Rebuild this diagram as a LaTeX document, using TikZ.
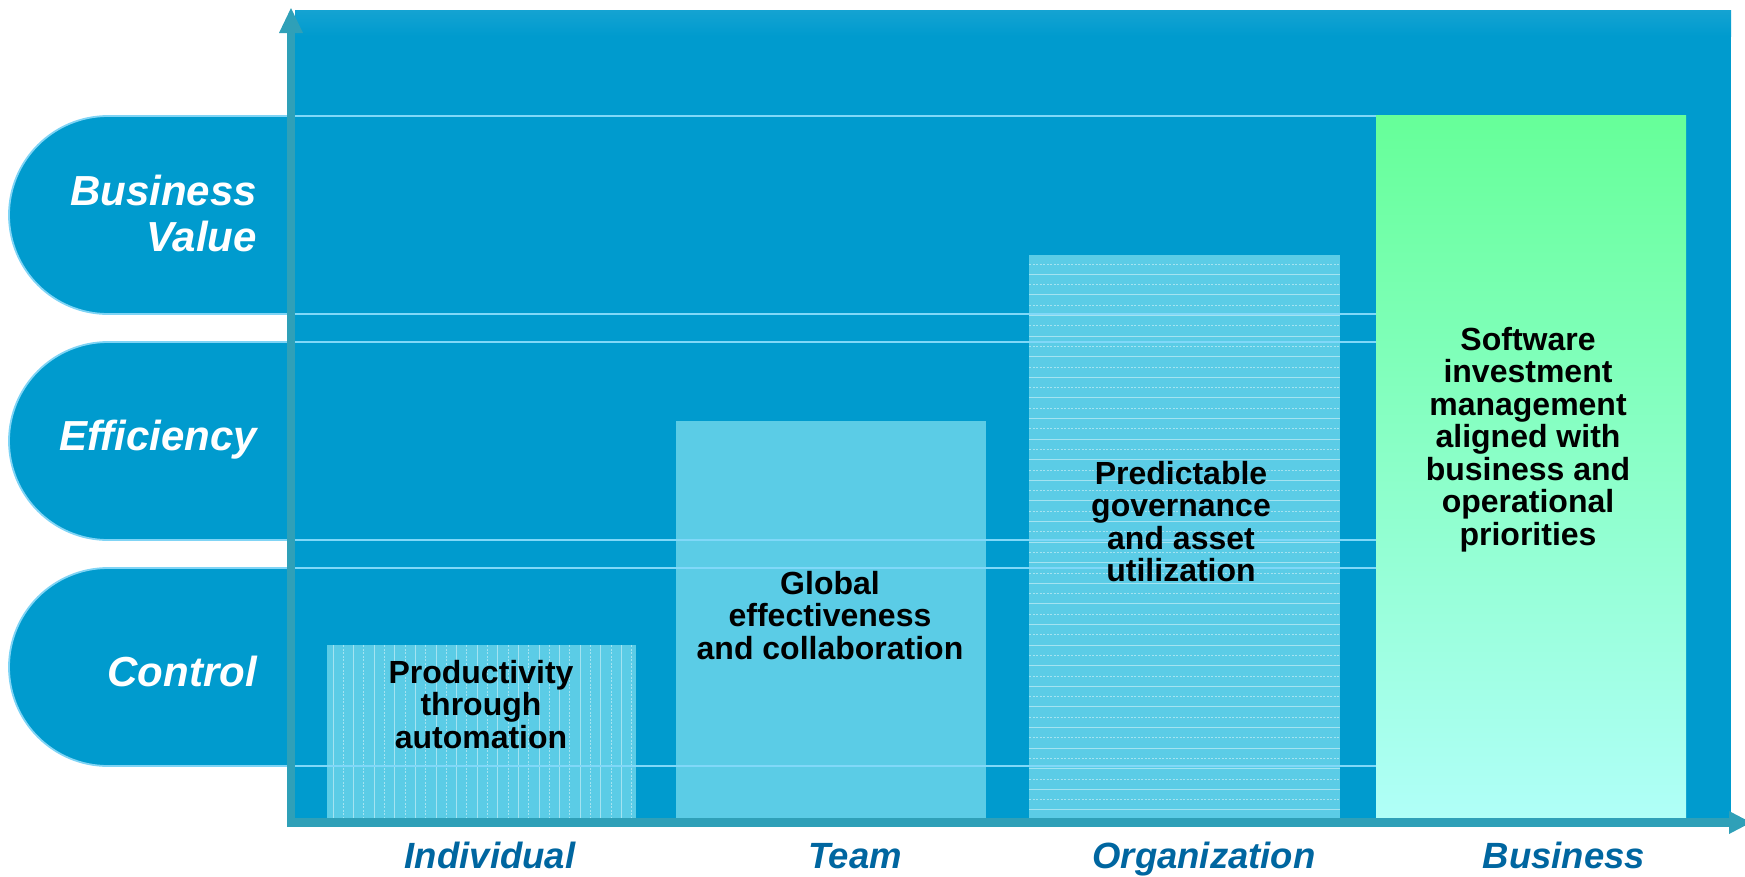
\documentclass[tikz,border=0pt]{standalone}
\usepackage{fontspec}
\setmainfont{Liberation Sans}
\definecolor{mainblue}{RGB}{0,155,206}
\definecolor{tabline}{RGB}{128,212,245}
\definecolor{hline}{RGB}{128,216,248}
\definecolor{barcyan}{RGB}{91,204,230}
\definecolor{axisteal}{RGB}{47,160,184}
\definecolor{labelblue}{RGB}{0,102,160}
\definecolor{greentop}{RGB}{102,255,153}
\definecolor{greenbot}{RGB}{176,255,248}
\begin{document}
\begin{tikzpicture}[x=1pt,y=-1pt,
  tabshape/.style={fill=mainblue, draw=tabline, line width=1.8pt, rounded corners=99pt},
  barfill/.style={fill=barcyan},
  hatch/.style={draw=white, opacity=0.45, line width=0.9pt},
  hatchdash/.style={hatch, dash pattern=on 2pt off 1.5pt},
  level/.style={draw=hline, line width=2.2pt},
  axisline/.style={draw=axisteal, line width=8.5pt},
  axishead/.style={fill=axisteal},
  tablabel/.style={text=white, font=\fontsize{42}{46.5}\selectfont\bfseries\itshape, align=right, inner sep=0pt, anchor=base east},
  barlabel/.style={text=black, font=\fontsize{32}{32.5}\selectfont\bfseries, align=center, inner sep=0pt, anchor=base},
  axislabel/.style={text=labelblue, font=\fontsize{36.5}{40}\selectfont\bfseries\itshape, inner sep=0pt, anchor=base}
]
\useasboundingbox (0,0) rectangle (1745,876);
\clip (0,0) rectangle (1745,876);
% main panel
\fill[mainblue] (295,10) rectangle (1731,818);
\shade[top color=mainblue!92!white, bottom color=mainblue] (295,10) rectangle (1731,36);
% tabs
\path[tabshape] (300,116) -- (9,116) -- (9,314) -- (300,314);
\path[tabshape] (300,342) -- (9,342) -- (9,540) -- (300,540);
\path[tabshape] (300,568) -- (9,568) -- (9,766) -- (300,766);
% bars
\fill[barfill] (327,645) rectangle (636,818);
\fill[barfill] (676,421) rectangle (986,818);
\fill[barfill] (1029,255) rectangle (1340,818);
\foreach \i in {0,...,14} {
  \draw[hatch] ({333+\i*20.6},645) -- ({333+\i*20.6},818);
  \draw[hatchdash] ({343.3+\i*20.6},645) -- ({343.3+\i*20.6},818);
}
\foreach \i in {0,...,26} {
  \draw[hatchdash] (1029,{264+\i*20.6}) -- (1340,{264+\i*20.6});
  \draw[hatch] (1029,{274.3+\i*20.6}) -- (1340,{274.3+\i*20.6});
}
% level lines
\foreach \yy in {116,314,342,540,568,766} {
  \draw[level] (295,\yy) -- (1376,\yy);
}
% green bar
\shade[top color=greentop, bottom color=greenbot] (1376,115) rectangle (1686,818);
% axes
\coordinate (origin) at (291,822.5);
\coordinate (ybase) at (291,32);
\coordinate (xbase) at (1731,822.5);
\draw[axisline] (291,827) -- (ybase);
\draw[axisline] (287,822.5) -- (xbase);
\fill[axishead] (279,33) -- (291,8) -- (303,33) -- cycle;
\fill[axishead] (1729,811) -- (1751,822.5) -- (1729,834) -- cycle;
% tab labels (anchor = baseline of last line)
\node[tablabel] (bv) at (257,251.5) {Business\\Value};
\node[tablabel] (eff) at (257,450) {Efficiency};
\node[tablabel] (ctl) at (257,686.7) {Control};
% bar labels (anchor = baseline of last line)
\node[barlabel] (b1) at (481,748.3) {Productivity\\through\\automation};
\node[barlabel] (b2) at (830,659.3) {Global\\effectiveness\\and collaboration};
\node[barlabel] (b3) at (1181,581.7) {Predictable\\governance\\and asset\\utilization};
\node[barlabel] (b4) at (1528,545) {Software\\investment\\management\\aligned with\\business and\\operational\\priorities};
% axis labels
\node[axislabel] (x1) at (490,868) {Individual};
\node[axislabel] (x2) at (855,868) {Team};
\node[axislabel] (x3) at (1204,868) {Organization};
\node[axislabel] (x4) at (1564,868) {Business};
\end{tikzpicture}
\end{document}
